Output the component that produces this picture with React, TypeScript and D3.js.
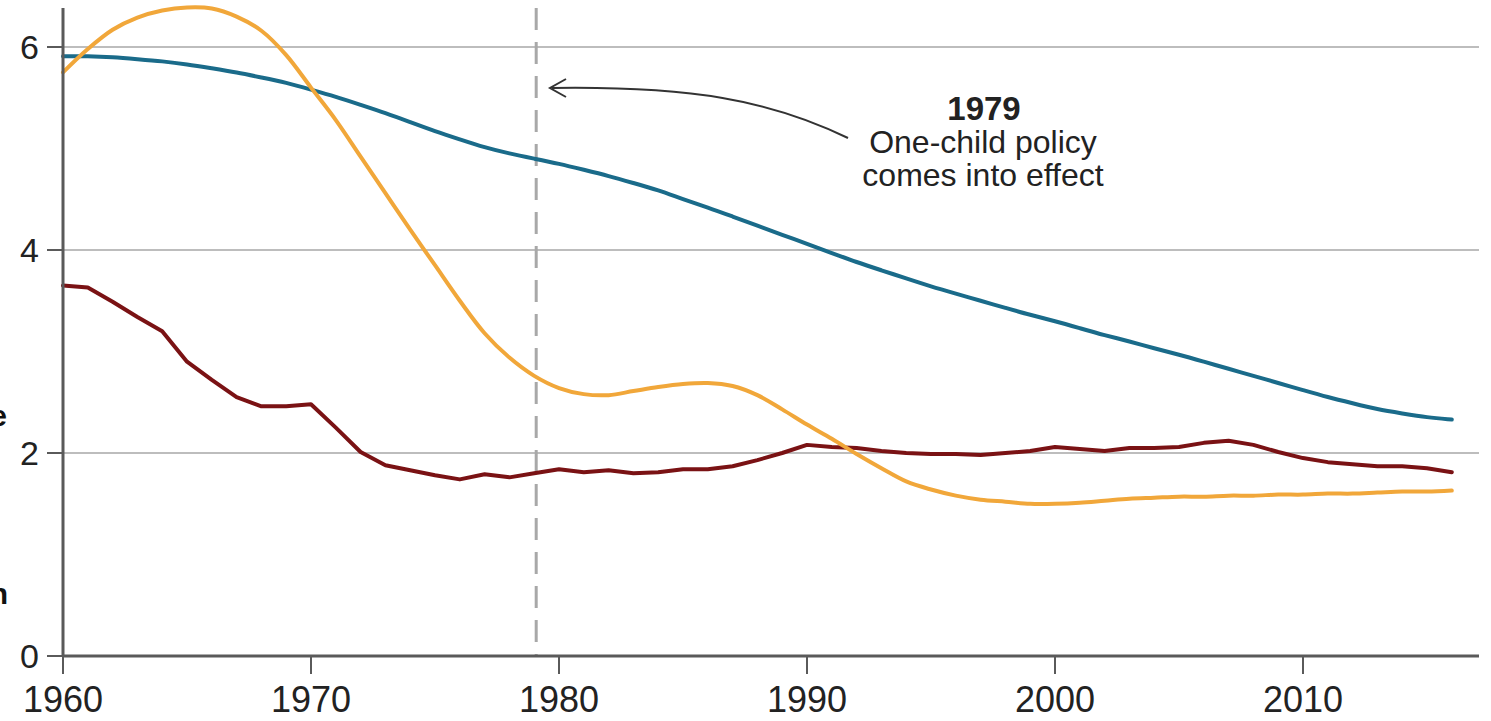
import React from "react";
import * as d3 from "d3";

const years: number[] = d3.range(1960, 2017);

const blueSeries: number[] = [
  5.91, 5.91, 5.9, 5.88, 5.86, 5.83, 5.79, 5.75, 5.7, 5.65,
  5.58, 5.51, 5.43, 5.35, 5.26, 5.17, 5.09, 5.01, 4.95, 4.9,
  4.85, 4.79, 4.73, 4.66, 4.59, 4.5, 4.42, 4.33, 4.24, 4.15,
  4.06, 3.97, 3.88, 3.8, 3.72, 3.64, 3.57, 3.5, 3.43, 3.36,
  3.3, 3.23, 3.16, 3.1, 3.03, 2.97, 2.9, 2.83, 2.76, 2.69,
  2.62, 2.55, 2.49, 2.43, 2.39, 2.35, 2.33,
];

const orangeSeries: number[] = [
  5.75, 5.98, 6.17, 6.29, 6.36, 6.39, 6.38, 6.3, 6.16, 5.92,
  5.6, 5.28, 4.92, 4.56, 4.2, 3.85, 3.5, 3.18, 2.94, 2.76,
  2.64, 2.58, 2.57, 2.61, 2.65, 2.68, 2.69, 2.66, 2.57, 2.43,
  2.28, 2.14, 1.99, 1.85, 1.72, 1.64, 1.58, 1.54, 1.52, 1.5,
  1.5, 1.51, 1.53, 1.55, 1.56, 1.57, 1.57, 1.58, 1.58, 1.59,
  1.59, 1.6, 1.6, 1.61, 1.62, 1.62, 1.63,
];

const redSeries: number[] = [
  3.65, 3.63, 3.49, 3.34, 3.2, 2.9, 2.72, 2.55, 2.46, 2.46,
  2.48, 2.25, 2.01, 1.88, 1.83, 1.78, 1.74, 1.79, 1.76, 1.8,
  1.84, 1.81, 1.83, 1.8, 1.81, 1.84, 1.84, 1.87, 1.93, 2.0,
  2.08, 2.06, 2.05, 2.02, 2.0, 1.99, 1.99, 1.98, 2.0, 2.02,
  2.06, 2.04, 2.02, 2.05, 2.05, 2.06, 2.1, 2.12, 2.08, 2.01,
  1.95, 1.91, 1.89, 1.87, 1.87, 1.85, 1.81,
];

const xTicks: number[] = [1960, 1970, 1980, 1990, 2000, 2010];
const yTicks: number[] = [0, 2, 4, 6];
const gridValues: number[] = [2, 4, 6];
const policyYear = 1979;
const annotationLines: string[] = ["One-child policy", "comes into effect"];

const W = 1491;
const H = 721;

export default function App() {
  const x = d3.scaleLinear().domain([1960, 2010]).range([63, 1303]);
  const y = d3.scaleLinear().domain([0, 6]).range([656, 47]);

  const mk = (vals: number[], curve: d3.CurveFactory) =>
    d3
      .line<number>()
      .x((_, i) => x(years[i]))
      .y((v) => y(v))
      .curve(curve)(vals) as string;

  const font = "'Liberation Sans', Arial, Helvetica, sans-serif";
  const axisColor = "#5a5a5a";
  const xEnd = 1479;

  return (
    <svg
      width={W}
      height={H}
      style={{ position: "absolute", left: 0, top: 0, background: "#fff" }}
      fontFamily={font}
    >
      {/* gridlines */}
      {gridValues.map((v) => (
        <line key={"g" + v} x1={x(1960)} x2={xEnd} y1={y(v)} y2={y(v)} stroke="#bdbdbd" strokeWidth={2} />
      ))}

      {/* cut-off legend fragments at left edge (as in the reference) */}
      <text x={7} y={426} textAnchor="end" fontSize={30} fontWeight="bold" fill="#111">e</text>
      <text x={8} y={604} textAnchor="end" fontSize={30} fontWeight="bold" fill="#111">n</text>

      {/* policy dashed line */}
      <line
        x1={x(policyYear) + 2}
        x2={x(policyYear) + 2}
        y1={8}
        y2={y(0)}
        stroke="#a8a8a8"
        strokeWidth={3}
        strokeDasharray="22 12"
      />

      {/* series */}
      <path d={mk(blueSeries, d3.curveBasis)} fill="none" stroke="#1a6b8a" strokeWidth={4} strokeLinecap="round" />
      <path d={mk(redSeries, d3.curveLinear)} fill="none" stroke="#7a1214" strokeWidth={4} strokeLinejoin="round" strokeLinecap="round" />
      <path d={mk(orangeSeries, d3.curveCatmullRom)} fill="none" stroke="#f1a73a" strokeWidth={4} strokeLinecap="round" />

      {/* y axis */}
      <line x1={x(1960)} x2={x(1960)} y1={8} y2={y(0)} stroke={axisColor} strokeWidth={3} />
      {yTicks.map((v) => (
        <g key={"y" + v}>
          <line x1={47} x2={x(1960)} y1={y(v)} y2={y(v)} stroke={axisColor} strokeWidth={2} />
          <text x={39} y={y(v) + 12} textAnchor="end" fontSize={34} fill="#222">
            {v}
          </text>
        </g>
      ))}

      {/* x axis */}
      <line x1={x(1960) - 1} x2={xEnd} y1={y(0)} y2={y(0)} stroke={axisColor} strokeWidth={3} />
      {xTicks.map((t) => (
        <g key={"x" + t}>
          <line x1={x(t)} x2={x(t)} y1={y(0)} y2={y(0) + 18} stroke={axisColor} strokeWidth={2} />
          <text x={x(t)} y={712} textAnchor="middle" fontSize={36} fill="#222">
            {t}
          </text>
        </g>
      ))}

      {/* annotation */}
      <path
        d="M 848 138 C 770 100, 690 86, 552 88"
        fill="none"
        stroke="#333"
        strokeWidth={2}
      />
      <path d="M 566 79 L 550 88 L 566 97" fill="none" stroke="#333" strokeWidth={2} />
      <text x={984} y={120} textAnchor="middle" fontSize={33} fontWeight="bold" fill="#222">
        {policyYear}
      </text>
      {annotationLines.map((l, i) => (
        <text key={l} x={983} y={153 + i * 33} textAnchor="middle" fontSize={32} fill="#222">
          {l}
        </text>
      ))}
    </svg>
  );
}
